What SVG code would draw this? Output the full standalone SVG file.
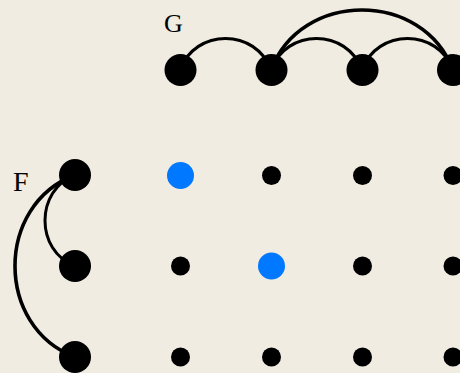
<svg xmlns="http://www.w3.org/2000/svg" width="460" height="373" viewBox="0 0 460 373">
  <style>
    .edge { fill: none; stroke: #000; stroke-linecap: round; }
    .thin { stroke-width: 3; }
    .thick { stroke-width: 3.6; }
    .big { fill: #000; }
    .dot { fill: #000; }
    .hl { fill: #0078ff; }
    .lbl { font-family: "Liberation Serif", serif; fill: #000; }
  </style>
  <rect width="460" height="373" fill="#f0ece1"/>

  <!-- connectors -->
  <g id="edges">
    <path class="edge thin" d="M180 70 C195 28 256 28 271 70"/>
    <path class="edge thin" d="M271 70 C286 28 347 28 362 70"/>
    <path class="edge thin" d="M362 70 C377 28 438 28 453 70"/>
    <path class="edge thick" d="M271 70 C301 -10 423 -10 453 70"/>
    <path class="edge thin" d="M75 175 C35 190 35 251 75 266"/>
    <path class="edge thick" d="M75 175 C-5 205 -5 327 75 357"/>
  </g>

  <!-- labels -->
  <text id="label-G" class="lbl" x="164" y="32" font-size="26">G</text>
  <text id="label-F" class="lbl" x="13" y="191" font-size="28">F</text>

  <!-- G row -->
  <g id="g1"><circle class="big" cx="180.5" cy="70" r="16"/></g>
  <g id="g2"><circle class="big" cx="271.5" cy="70" r="16"/></g>
  <g id="g3"><circle class="big" cx="362.5" cy="70" r="16"/></g>
  <g id="g4"><circle class="big" cx="453" cy="70" r="16"/></g>

  <!-- F column -->
  <g id="f1"><circle class="big" cx="75" cy="175" r="16"/></g>
  <g id="f2"><circle class="big" cx="75" cy="266" r="16"/></g>
  <g id="f3"><circle class="big" cx="75" cy="357" r="16"/></g>

  <!-- grid -->
  <g id="c11"><circle class="hl" cx="180.5" cy="175.5" r="13.5"/></g>
  <g id="c12"><circle class="dot" cx="271.5" cy="175.5" r="9.5"/></g>
  <g id="c13"><circle class="dot" cx="362.5" cy="175.5" r="9.5"/></g>
  <g id="c14"><circle class="dot" cx="453" cy="175.5" r="9.5"/></g>
  <g id="c21"><circle class="dot" cx="180.5" cy="266" r="9.5"/></g>
  <g id="c22"><circle class="hl" cx="271.5" cy="266" r="13.5"/></g>
  <g id="c23"><circle class="dot" cx="362.5" cy="266" r="9.5"/></g>
  <g id="c24"><circle class="dot" cx="453" cy="266" r="9.5"/></g>
  <g id="c31"><circle class="dot" cx="180.5" cy="357" r="9.5"/></g>
  <g id="c32"><circle class="dot" cx="271.5" cy="357" r="9.5"/></g>
  <g id="c33"><circle class="dot" cx="362.5" cy="357" r="9.5"/></g>
  <g id="c34"><circle class="dot" cx="453" cy="357" r="9.5"/></g>
</svg>
